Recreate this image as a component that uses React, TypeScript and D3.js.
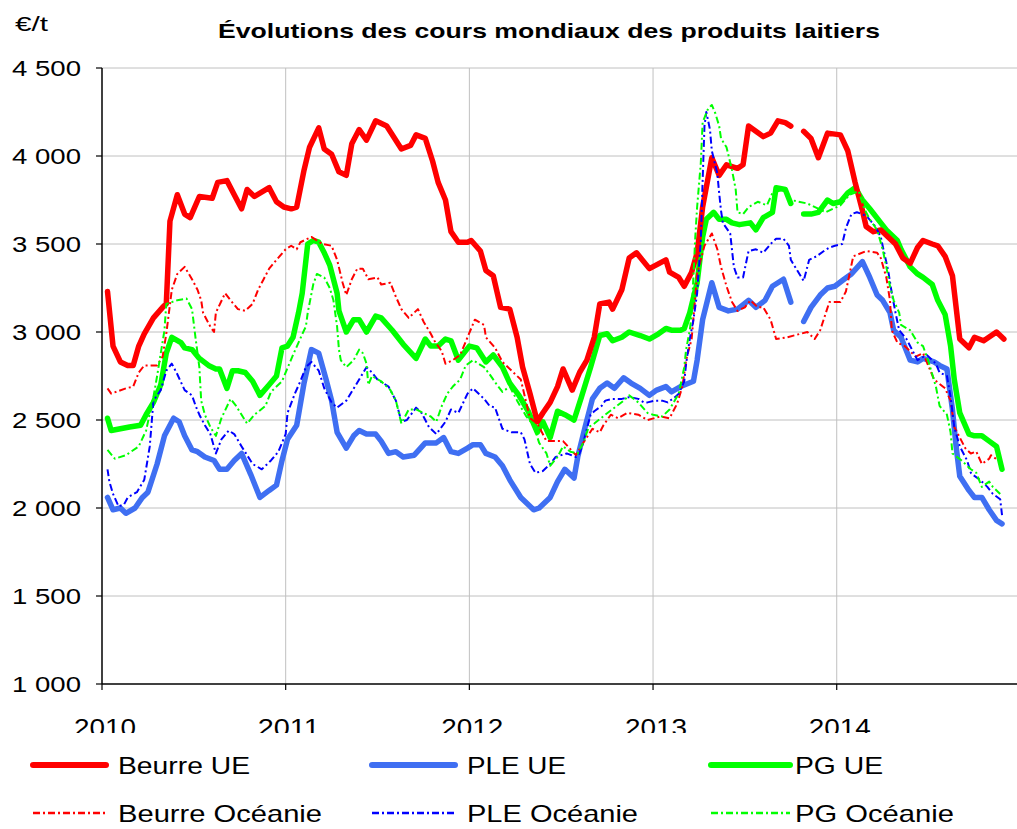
import React from 'react';
import * as d3 from 'd3';

type Pt = [number, number | null];

// prix en €/t, dates en années décimales (relevés bimensuels approximatifs)
const beurreUE: Pt[] = [
  [2010.03, 3230], [2010.06, 2920], [2010.10, 2830], [2010.14, 2810], [2010.17, 2810], [2010.20, 2920],
  [2010.23, 2990], [2010.28, 3080], [2010.33, 3140], [2010.35, 3160], [2010.37, 3630], [2010.41, 3780],
  [2010.45, 3670], [2010.48, 3650], [2010.53, 3770], [2010.60, 3760], [2010.63, 3850], [2010.68, 3860],
  [2010.72, 3780], [2010.76, 3700], [2010.79, 3810], [2010.83, 3770], [2010.91, 3820], [2010.95, 3740],
  [2010.99, 3710], [2011.03, 3700], [2011.06, 3710], [2011.10, 3920], [2011.13, 4050], [2011.18, 4160],
  [2011.21, 4040], [2011.25, 4010], [2011.29, 3910], [2011.33, 3890], [2011.36, 4070], [2011.40, 4150],
  [2011.44, 4090], [2011.49, 4200], [2011.55, 4170], [2011.63, 4040], [2011.68, 4060], [2011.71, 4120],
  [2011.76, 4100], [2011.80, 3970], [2011.83, 3850], [2011.87, 3750], [2011.90, 3570], [2011.94, 3510],
  [2011.99, 3510], [2012.01, 3520], [2012.06, 3460], [2012.09, 3350], [2012.13, 3320], [2012.17, 3140],
  [2012.22, 3130], [2012.26, 2970], [2012.29, 2800], [2012.33, 2650], [2012.37, 2490], [2012.40, 2540],
  [2012.44, 2600], [2012.48, 2690], [2012.51, 2790], [2012.56, 2670], [2012.60, 2770], [2012.64, 2840],
  [2012.68, 2970], [2012.71, 3160], [2012.76, 3170], [2012.78, 3130], [2012.83, 3240], [2012.87, 3420],
  [2012.91, 3450], [2012.98, 3360], [2013.07, 3410], [2013.09, 3340], [2013.14, 3310], [2013.17, 3260],
  [2013.21, 3340], [2013.24, 3450], [2013.27, 3710], [2013.32, 3990], [2013.36, 3890], [2013.40, 3950],
  [2013.46, 3930], [2013.49, 3950], [2013.52, 4170], [2013.60, 4110], [2013.64, 4130], [2013.68, 4200],
  [2013.72, 4190], [2013.75, 4170], [2013.79, null], [2013.82, 4140], [2013.86, 4100], [2013.90, 3990],
  [2013.95, 4130], [2014.02, 4120], [2014.06, 4030], [2014.10, 3850], [2014.14, 3690], [2014.16, 3600],
  [2014.20, 3570], [2014.24, 3580], [2014.27, 3550], [2014.32, 3500], [2014.36, 3420], [2014.40, 3390],
  [2014.44, 3480], [2014.47, 3520], [2014.52, 3500], [2014.55, 3490], [2014.59, 3430], [2014.63, 3320],
  [2014.67, 2960], [2014.72, 2910], [2014.75, 2970], [2014.80, 2950], [2014.87, 3000], [2014.91, 2960],
];

const pleUE: Pt[] = [
  [2010.03, 2060], [2010.06, 1990], [2010.10, 2000], [2010.13, 1970], [2010.18, 2000], [2010.22, 2060],
  [2010.25, 2090], [2010.30, 2250], [2010.34, 2410], [2010.39, 2510], [2010.42, 2490], [2010.45, 2410],
  [2010.49, 2330], [2010.52, 2320], [2010.56, 2290], [2010.61, 2270], [2010.64, 2220], [2010.68, 2220],
  [2010.72, 2270], [2010.76, 2310], [2010.81, 2190], [2010.86, 2060], [2010.91, 2100], [2010.95, 2130],
  [2010.98, 2270], [2011.01, 2390], [2011.06, 2470], [2011.10, 2710], [2011.14, 2900], [2011.18, 2880],
  [2011.22, 2730], [2011.25, 2610], [2011.28, 2430], [2011.33, 2340], [2011.37, 2410], [2011.40, 2440],
  [2011.44, 2420], [2011.49, 2420], [2011.52, 2380], [2011.56, 2310], [2011.60, 2320], [2011.64, 2290],
  [2011.70, 2300], [2011.76, 2370], [2011.82, 2370], [2011.86, 2400], [2011.90, 2320], [2011.94, 2310],
  [2011.99, 2340], [2012.02, 2360], [2012.06, 2360], [2012.09, 2310], [2012.14, 2290], [2012.18, 2240],
  [2012.22, 2160], [2012.28, 2060], [2012.35, 1990], [2012.38, 2000], [2012.44, 2060], [2012.48, 2150],
  [2012.52, 2220], [2012.57, 2170], [2012.59, 2290], [2012.63, 2460], [2012.67, 2620], [2012.71, 2680],
  [2012.75, 2710], [2012.79, 2680], [2012.84, 2740], [2012.88, 2710], [2012.93, 2680], [2012.98, 2640],
  [2013.02, 2670], [2013.07, 2690], [2013.10, 2660], [2013.15, 2690], [2013.22, 2720], [2013.24, 2840],
  [2013.27, 3070], [2013.32, 3280], [2013.36, 3140], [2013.41, 3120], [2013.46, 3130], [2013.52, 3180],
  [2013.56, 3140], [2013.61, 3180], [2013.65, 3260], [2013.71, 3300], [2013.75, 3170], [2013.79, null],
  [2013.82, 3060], [2013.86, 3140], [2013.91, 3210], [2013.95, 3250], [2013.99, 3260], [2014.04, 3300],
  [2014.08, 3330], [2014.14, 3400], [2014.18, 3310], [2014.22, 3210], [2014.25, 3180], [2014.29, 3110],
  [2014.31, 3010], [2014.35, 2970], [2014.40, 2840], [2014.44, 2830], [2014.47, 2850], [2014.53, 2830],
  [2014.56, 2810], [2014.60, 2790], [2014.63, 2560], [2014.65, 2350], [2014.67, 2180], [2014.72, 2100],
  [2014.75, 2060], [2014.79, 2060], [2014.83, 1990], [2014.87, 1930], [2014.90, 1910],
];

const pgUE: Pt[] = [
  [2010.03, 2510], [2010.05, 2440], [2010.10, 2450], [2010.15, 2460], [2010.21, 2470], [2010.24, 2530],
  [2010.28, 2600], [2010.32, 2700], [2010.35, 2880], [2010.38, 2970], [2010.43, 2940], [2010.45, 2910],
  [2010.49, 2900], [2010.53, 2850], [2010.58, 2810], [2010.62, 2790], [2010.64, 2790], [2010.68, 2680],
  [2010.71, 2780], [2010.74, 2780], [2010.78, 2770], [2010.82, 2720], [2010.86, 2640], [2010.91, 2700],
  [2010.95, 2750], [2010.98, 2910], [2011.01, 2920], [2011.04, 2970], [2011.07, 3110], [2011.09, 3220],
  [2011.12, 3500], [2011.15, 3520], [2011.18, 3510], [2011.21, 3450], [2011.24, 3380], [2011.28, 3220],
  [2011.29, 3120], [2011.33, 3000], [2011.37, 3070], [2011.40, 3070], [2011.44, 3000], [2011.49, 3090],
  [2011.52, 3080], [2011.58, 3010], [2011.64, 2930], [2011.71, 2850], [2011.76, 2960], [2011.79, 2920],
  [2011.83, 2920], [2011.87, 2960], [2011.90, 2950], [2011.94, 2840], [2012.00, 2920], [2012.04, 2910],
  [2012.09, 2830], [2012.13, 2870], [2012.18, 2800], [2012.22, 2710], [2012.27, 2640], [2012.32, 2550],
  [2012.37, 2430], [2012.40, 2490], [2012.44, 2400], [2012.48, 2550], [2012.52, 2530], [2012.57, 2500],
  [2012.61, 2630], [2012.66, 2800], [2012.71, 2980], [2012.75, 2990], [2012.78, 2950], [2012.83, 2970],
  [2012.87, 3000], [2012.93, 2980], [2012.98, 2960], [2013.03, 2990], [2013.07, 3020], [2013.10, 3010],
  [2013.15, 3010], [2013.17, 3020], [2013.20, 3110], [2013.24, 3280], [2013.27, 3540], [2013.29, 3640],
  [2013.33, 3680], [2013.36, 3640], [2013.40, 3640], [2013.43, 3620], [2013.47, 3610], [2013.53, 3620],
  [2013.56, 3580], [2013.60, 3650], [2013.65, 3680], [2013.67, 3820], [2013.72, 3810], [2013.75, 3730],
  [2013.79, null], [2013.82, 3670], [2013.86, 3670], [2013.90, 3680], [2013.95, 3750], [2013.98, 3730],
  [2014.02, 3740], [2014.06, 3790], [2014.10, 3820], [2014.14, 3750], [2014.18, 3700], [2014.24, 3620],
  [2014.27, 3580], [2014.33, 3520], [2014.35, 3470], [2014.40, 3370], [2014.44, 3330], [2014.47, 3310],
  [2014.52, 3270], [2014.55, 3180], [2014.59, 3100], [2014.62, 2920], [2014.64, 2730], [2014.67, 2540],
  [2014.72, 2420], [2014.75, 2410], [2014.79, 2410], [2014.83, 2380], [2014.87, 2350], [2014.90, 2220],
];

const beurreOce: Pt[] = [
  [2010.03, 2680], [2010.05, 2650], [2010.13, 2680], [2010.17, 2690], [2010.20, 2770], [2010.23, 2810],
  [2010.30, 2810], [2010.33, 2860], [2010.35, 2990], [2010.38, 3240], [2010.41, 3330], [2010.45, 3370],
  [2010.49, 3300], [2010.52, 3240], [2010.54, 3180], [2010.55, 3110], [2010.59, 3030], [2010.61, 3000],
  [2010.62, 3110], [2010.67, 3220], [2010.70, 3180], [2010.74, 3130], [2010.78, 3120], [2010.82, 3160],
  [2010.85, 3240], [2010.88, 3300], [2010.91, 3360], [2010.95, 3410], [2011.00, 3470], [2011.03, 3490],
  [2011.06, 3470], [2011.08, 3510], [2011.14, 3540], [2011.20, 3500], [2011.25, 3490], [2011.28, 3410],
  [2011.31, 3280], [2011.33, 3210], [2011.36, 3300], [2011.39, 3360], [2011.42, 3360], [2011.45, 3300],
  [2011.50, 3310], [2011.52, 3270], [2011.57, 3280], [2011.60, 3200], [2011.63, 3130], [2011.67, 3080],
  [2011.72, 3130], [2011.75, 3060], [2011.79, 2990], [2011.81, 2950], [2011.85, 2890], [2011.87, 2820],
  [2011.91, 2840], [2011.95, 2870], [2011.99, 2970], [2012.03, 3070], [2012.08, 3040], [2012.09, 2970],
  [2012.14, 2910], [2012.18, 2830], [2012.23, 2780], [2012.28, 2730], [2012.33, 2510], [2012.37, 2480],
  [2012.42, 2380], [2012.46, 2380], [2012.51, 2380], [2012.58, 2300], [2012.62, 2370], [2012.67, 2450],
  [2012.71, 2430], [2012.73, 2470], [2012.77, 2530], [2012.81, 2510], [2012.86, 2540], [2012.92, 2530],
  [2012.97, 2500], [2013.04, 2520], [2013.09, 2510], [2013.13, 2590], [2013.16, 2690], [2013.18, 2840],
  [2013.21, 2960], [2013.23, 3200], [2013.24, 3330], [2013.28, 3490], [2013.32, 3560], [2013.35, 3470],
  [2013.37, 3370], [2013.40, 3260], [2013.43, 3170], [2013.46, 3120], [2013.50, 3140], [2013.53, 3180],
  [2013.57, 3140], [2013.60, 3140], [2013.64, 3070], [2013.67, 2960], [2013.73, 2970], [2013.84, 3000],
  [2013.88, 2960], [2013.91, 3010], [2013.96, 3170], [2014.02, 3170], [2014.05, 3230], [2014.09, 3430],
  [2014.16, 3460], [2014.22, 3450], [2014.24, 3420], [2014.27, 3310], [2014.29, 3180], [2014.30, 3010],
  [2014.33, 2940], [2014.37, 2920], [2014.43, 2860], [2014.47, 2880], [2014.51, 2780], [2014.53, 2730],
  [2014.59, 2680], [2014.62, 2610], [2014.64, 2460], [2014.67, 2400], [2014.70, 2340], [2014.73, 2310],
  [2014.76, 2320], [2014.79, 2250], [2014.83, 2280], [2014.84, 2300], [2014.88, 2270],
];

const pleOce: Pt[] = [
  [2010.03, 2220], [2010.04, 2150], [2010.06, 2080], [2010.09, 2010], [2010.12, 2020], [2010.14, 2060],
  [2010.19, 2090], [2010.23, 2160], [2010.26, 2350], [2010.28, 2610], [2010.32, 2670], [2010.35, 2780],
  [2010.38, 2820], [2010.41, 2760], [2010.45, 2670], [2010.49, 2640], [2010.51, 2580], [2010.53, 2530],
  [2010.56, 2470], [2010.59, 2420], [2010.62, 2310], [2010.65, 2390], [2010.69, 2440], [2010.72, 2420],
  [2010.76, 2350], [2010.82, 2250], [2010.87, 2220], [2010.92, 2270], [2010.96, 2320], [2011.00, 2420],
  [2011.01, 2540], [2011.05, 2650], [2011.08, 2720], [2011.11, 2800], [2011.14, 2830], [2011.18, 2780],
  [2011.21, 2680], [2011.25, 2600], [2011.28, 2570], [2011.33, 2610], [2011.40, 2730], [2011.44, 2800],
  [2011.47, 2770], [2011.50, 2730], [2011.56, 2690], [2011.60, 2610], [2011.63, 2490], [2011.66, 2500],
  [2011.71, 2570], [2011.74, 2540], [2011.78, 2460], [2011.82, 2420], [2011.87, 2490], [2011.90, 2560],
  [2011.94, 2540], [2011.99, 2650], [2012.02, 2680], [2012.08, 2620], [2012.11, 2580], [2012.14, 2570],
  [2012.18, 2450], [2012.23, 2430], [2012.28, 2430], [2012.30, 2390], [2012.33, 2250], [2012.36, 2200],
  [2012.40, 2210], [2012.44, 2250], [2012.47, 2290], [2012.53, 2310], [2012.58, 2290], [2012.60, 2310],
  [2012.62, 2370], [2012.66, 2530], [2012.68, 2550], [2012.72, 2580], [2012.74, 2610], [2012.78, 2620],
  [2012.83, 2620], [2012.87, 2630], [2012.92, 2620], [2012.95, 2600], [2012.97, 2600], [2013.01, 2610],
  [2013.05, 2610], [2013.08, 2600], [2013.12, 2630], [2013.14, 2650], [2013.17, 2720], [2013.18, 2820],
  [2013.20, 2960], [2013.22, 3070], [2013.24, 3220], [2013.26, 3520], [2013.27, 3860], [2013.28, 4170],
  [2013.29, 4250], [2013.31, 4150], [2013.32, 4030], [2013.35, 3900], [2013.36, 3790], [2013.37, 3690],
  [2013.38, 3620], [2013.42, 3560], [2013.44, 3370], [2013.46, 3310], [2013.49, 3310], [2013.52, 3460],
  [2013.56, 3470], [2013.60, 3450], [2013.64, 3500], [2013.67, 3530], [2013.71, 3530], [2013.74, 3490],
  [2013.75, 3410], [2013.82, 3290], [2013.85, 3410], [2013.89, 3430], [2013.93, 3460], [2013.96, 3480],
  [2013.99, 3490], [2014.03, 3500], [2014.05, 3590], [2014.08, 3670], [2014.11, 3680], [2014.14, 3670],
  [2014.17, 3650], [2014.21, 3600], [2014.24, 3540], [2014.25, 3490], [2014.28, 3350], [2014.30, 3220],
  [2014.32, 3110], [2014.34, 3010], [2014.38, 2960], [2014.44, 2840], [2014.49, 2870], [2014.54, 2820],
  [2014.56, 2770], [2014.60, 2750], [2014.62, 2630], [2014.64, 2460], [2014.67, 2350], [2014.71, 2270],
  [2014.73, 2200], [2014.74, 2190], [2014.78, 2160], [2014.82, 2120], [2014.85, 2080], [2014.89, 2050],
  [2014.90, 1960],
];

const pgOce: Pt[] = [
  [2010.03, 2330], [2010.07, 2280], [2010.13, 2300], [2010.20, 2350], [2010.24, 2440], [2010.28, 2630],
  [2010.30, 2750], [2010.34, 3010], [2010.35, 3160], [2010.38, 3170], [2010.41, 3180], [2010.46, 3190],
  [2010.49, 3130], [2010.51, 2960], [2010.53, 2800], [2010.54, 2610], [2010.56, 2530], [2010.59, 2460],
  [2010.62, 2410], [2010.65, 2510], [2010.70, 2620], [2010.73, 2580], [2010.79, 2480], [2010.83, 2530],
  [2010.89, 2580], [2010.92, 2660], [2010.98, 2720], [2011.04, 2870], [2011.10, 3010], [2011.11, 3030],
  [2011.12, 3110], [2011.15, 3270], [2011.17, 3330], [2011.21, 3310], [2011.24, 3250], [2011.26, 3180],
  [2011.28, 3030], [2011.29, 2900], [2011.30, 2840], [2011.33, 2800], [2011.37, 2840], [2011.40, 2900],
  [2011.42, 2880], [2011.44, 2820], [2011.45, 2700], [2011.47, 2750], [2011.52, 2720], [2011.57, 2670],
  [2011.60, 2610], [2011.63, 2480], [2011.67, 2560], [2011.71, 2560], [2011.75, 2540], [2011.79, 2520],
  [2011.82, 2490], [2011.85, 2580], [2011.88, 2650], [2011.91, 2690], [2011.95, 2730], [2011.98, 2810],
  [2012.02, 2840], [2012.08, 2800], [2012.11, 2760], [2012.15, 2700], [2012.18, 2660], [2012.22, 2690],
  [2012.26, 2610], [2012.31, 2520], [2012.35, 2470], [2012.38, 2370], [2012.42, 2310], [2012.44, 2240],
  [2012.48, 2290], [2012.51, 2350], [2012.55, 2320], [2012.59, 2310], [2012.62, 2370], [2012.65, 2460],
  [2012.68, 2480], [2012.74, 2530], [2012.79, 2570], [2012.84, 2610], [2012.87, 2640], [2012.92, 2600],
  [2012.97, 2540], [2013.00, 2530], [2013.05, 2520], [2013.09, 2560], [2013.14, 2650], [2013.17, 2800],
  [2013.18, 2900], [2013.20, 3010], [2013.21, 3100], [2013.23, 3540], [2013.24, 3710], [2013.26, 3960],
  [2013.27, 4190], [2013.30, 4270], [2013.32, 4290], [2013.34, 4240], [2013.36, 4170], [2013.37, 4100],
  [2013.40, 4050], [2013.43, 3920], [2013.45, 3810], [2013.46, 3680], [2013.49, 3670], [2013.52, 3710],
  [2013.57, 3740], [2013.62, 3720], [2013.65, 3790], [2013.71, 3810], [2013.75, 3750], [2013.84, 3730],
  [2013.94, 3680], [2014.02, 3720], [2014.07, 3780], [2014.12, 3800], [2014.15, 3700], [2014.18, 3640],
  [2014.22, 3580], [2014.25, 3470], [2014.27, 3370], [2014.29, 3260], [2014.31, 3180], [2014.34, 3110],
  [2014.35, 3040], [2014.40, 3010], [2014.44, 2940], [2014.47, 2920], [2014.50, 2830], [2014.54, 2690],
  [2014.56, 2580], [2014.60, 2530], [2014.62, 2430], [2014.63, 2310], [2014.68, 2270], [2014.73, 2220],
  [2014.76, 2200], [2014.79, 2120], [2014.83, 2150], [2014.85, 2120], [2014.89, 2080],
];

const yTicks = [1000, 1500, 2000, 2500, 3000, 3500, 4000, 4500];
const years = [2010, 2011, 2012, 2013, 2014];

const series = [
  { name: 'PG UE', data: pgUE, color: '#00ff00', width: 5.5, dash: '' },
  { name: 'PLE UE', data: pleUE, color: '#3f6ff2', width: 5.5, dash: '' },
  { name: 'Beurre UE', data: beurreUE, color: '#ff0000', width: 5.5, dash: '' },
  { name: 'Beurre Océanie', data: beurreOce, color: '#ff0000', width: 2, dash: '7,3,2,3' },
  { name: 'PLE Océanie', data: pleOce, color: '#0000ff', width: 2, dash: '7,3,2,3' },
  { name: 'PG Océanie', data: pgOce, color: '#00ff00', width: 2, dash: '7,3,2,3' },
];

// legend: order as in the picture
const legendRows = [
  ['Beurre UE', 'PLE UE', 'PG UE'],
  ['Beurre Océanie', 'PLE Océanie', 'PG Océanie'],
];
const legendWidths: Record<string, number> = {
  'Beurre UE': 132, 'PLE UE': 99, 'PG UE': 88,
  'Beurre Océanie': 204, 'PLE Océanie': 171, 'PG Océanie': 159,
};

const fmt = (v: number) => d3.format(',')(v).replace(',', ' ');

export default function App() {
  const W = 1017;
  const H = 829;
  const left = 102, right = 1020.4, top = 68, bottom = 684;
  const x = d3.scaleLinear().domain([2010, 2015]).range([left, right]);
  const y = d3.scaleLinear().domain([1000, 4500]).range([bottom, top]);
  const line = d3.line<Pt>()
    .defined(d => d[1] !== null)
    .x(d => x(d[0]))
    .y(d => y(d[1] as number));

  const font = '"Liberation Sans", Arial, sans-serif';
  const colX = [[33, 106, 118], [372, 455, 467], [711, 790, 795]];
  const rowY = [765, 813];

  return (
    <svg width={W} height={H} style={{ position: 'absolute', left: 0, top: 0, background: '#fff' }}
      fontFamily={font}>
      <defs>
        <clipPath id="yearClip">
          <rect x={0} y={690} width={W} height={43} />
        </clipPath>
      </defs>
      <rect width={W} height={H} fill="#fff" />

      {/* gridlines */}
      {yTicks.filter(t => t > 1000).map(t => (
        <line key={'gy' + t} x1={left} x2={W} y1={y(t)} y2={y(t)} stroke="#c0c0c0" strokeWidth={1} />
      ))}
      {years.filter(t => t > 2010).map(t => (
        <line key={'gx' + t} x1={x(t)} x2={x(t)} y1={top} y2={bottom} stroke="#c0c0c0" strokeWidth={1} />
      ))}

      {/* axes */}
      <line x1={left} x2={left} y1={top} y2={bottom} stroke="#000" strokeWidth={1.5} />
      <line x1={left} x2={W} y1={bottom} y2={bottom} stroke="#000" strokeWidth={1.5} />
      {yTicks.map(t => (
        <g key={'ty' + t}>
          <line x1={left - 6} x2={left} y1={y(t)} y2={y(t)} stroke="#000" strokeWidth={1.2} />
          <text x={81} y={y(t) + 8} fontSize={22} textAnchor="end" textLength={69}
            lengthAdjust="spacingAndGlyphs">{fmt(t)}</text>
        </g>
      ))}
      {years.map(t => (
        <line key={'tx' + t} x1={x(t)} x2={x(t)} y1={bottom} y2={bottom + 6} stroke="#000" strokeWidth={1.2} />
      ))}
      <g clipPath="url(#yearClip)">
        {years.map(t => (
          <text key={'lx' + t} x={x(t) + 3} y={736} fontSize={23} textAnchor="middle" textLength={62}
            lengthAdjust="spacingAndGlyphs">{t}</text>
        ))}
      </g>

      {/* series */}
      {series.map(s => (
        <path key={s.name} d={line(s.data) || ''} fill="none" stroke={s.color} strokeWidth={s.width}
          strokeDasharray={s.dash || undefined} strokeLinejoin="round" strokeLinecap={s.dash ? 'butt' : 'round'} />
      ))}

      {/* titles */}
      <text x={15} y={31} fontSize={21} textLength={33} lengthAdjust="spacingAndGlyphs">€/t</text>
      <text x={549} y={38} fontSize={21} fontWeight="bold" textAnchor="middle" textLength={662}
        lengthAdjust="spacingAndGlyphs">Évolutions des cours mondiaux des produits laitiers</text>

      {/* legend */}
      {legendRows.map((row, ri) => row.map((name, ci) => {
        const s = series.find(d => d.name === name)!;
        const [x1, x2, tx] = colX[ci];
        return (
          <g key={name}>
            <line x1={x1} x2={x2} y1={rowY[ri]} y2={rowY[ri]} stroke={s.color}
              strokeWidth={s.dash ? 2.5 : 6} strokeDasharray={s.dash || undefined}
              strokeLinecap={s.dash ? 'butt' : 'round'} />
            <text x={tx} y={rowY[ri] + 9} fontSize={24} textLength={legendWidths[name]}
              lengthAdjust="spacingAndGlyphs">{name}</text>
          </g>
        );
      }))}
    </svg>
  );
}
